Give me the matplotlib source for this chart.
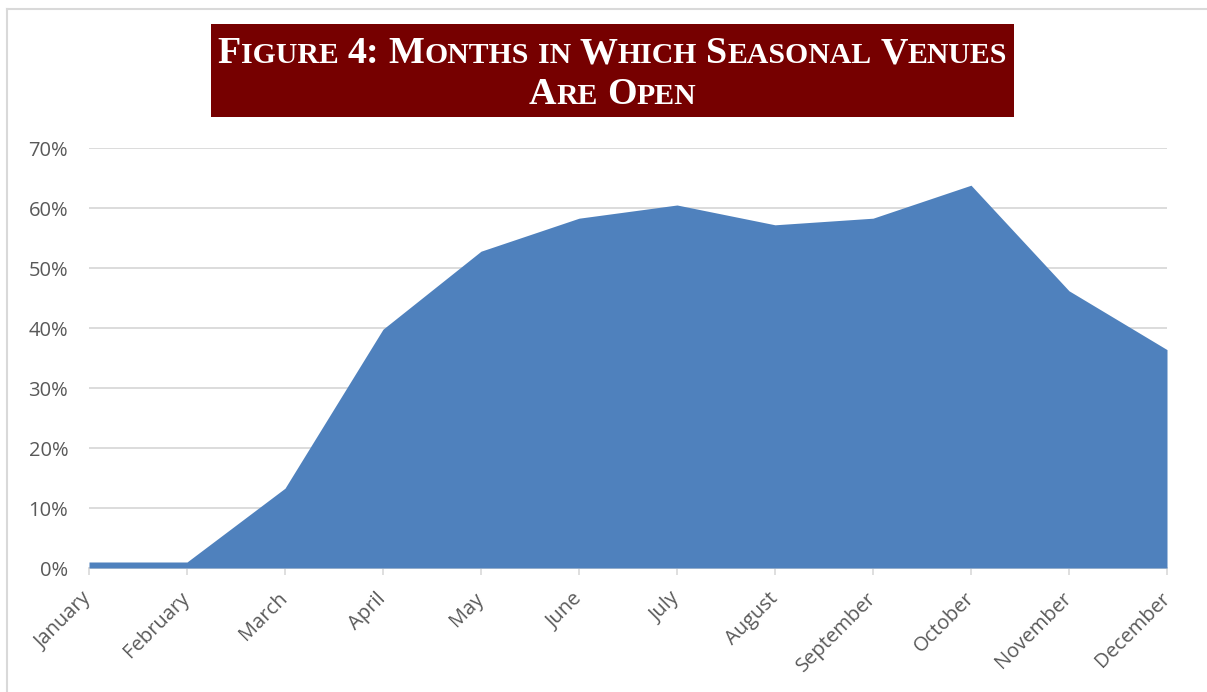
import matplotlib
matplotlib.use('Agg')
from matplotlib import pyplot as plt
from matplotlib.patches import Rectangle
from matplotlib.lines import Line2D
from matplotlib.ticker import PercentFormatter

months = ['January', 'February', 'March', 'April', 'May', 'June', 'July',
          'August', 'September', 'October', 'November', 'December']
share_open = [0.010, 0.010, 0.133, 0.398, 0.528, 0.583, 0.605,
              0.572, 0.583, 0.638, 0.462, 0.364]

# title in small caps: (text, big letter?) per word
title_lines = [
    [[('F', 1), ('IGURE', 0)], [('4:', 1)], [('M', 1), ('ONTHS', 0)], [('IN', 0)],
     [('W', 1), ('HICH', 0)], [('S', 1), ('EASONAL', 0)], [('V', 1), ('ENUES', 0)]],
    [[('A', 1), ('RE', 0)], [('O', 1), ('PEN', 0)]],
]

W, H = 1207, 692
fig = plt.figure(figsize=(W / 100, H / 100), dpi=100)
fig.patch.set_facecolor('white')

# thin frame (top + left only visible)
fig.add_artist(Line2D([6.5 / W, 6.5 / W], [0, 1 - 8.5 / H], transform=fig.transFigure,
                      color='#d9d9d9', lw=1.5))
fig.add_artist(Line2D([6.5 / W, 1], [1 - 8.5 / H, 1 - 8.5 / H], transform=fig.transFigure,
                      color='#d9d9d9', lw=1.5))

ax = fig.add_axes([89 / W, 1 - 568 / H, (1167 - 89) / W, (568 - 148) / H])
x = list(range(len(months)))
ax.fill_between(x, 0, share_open, color='#4f81bd', lw=0, zorder=2)
ax.set_xlim(0, len(months) - 1)
ax.set_ylim(0, 0.7)
ax.set_yticks([i / 10 for i in range(8)])
ax.yaxis.set_major_formatter(PercentFormatter(1.0, decimals=0))
ax.grid(axis='y', color='#d9d9d9', lw=1.3, zorder=0)
ax.set_axisbelow(True)
for s in ['top', 'right', 'left']:
    ax.spines[s].set_visible(False)
ax.spines['bottom'].set_color('#d9d9d9')
ax.spines['bottom'].set_linewidth(1.3)
ax.spines['bottom'].set_zorder(1)

ax.set_xticks(x)
ax.set_xticklabels(months, rotation=45, ha='right', va='center', rotation_mode='anchor',
                   fontsize=14.5, color='#595959', family='Open Sans')
ax.tick_params(axis='x', length=5, width=1.2, color='#d9d9d9', pad=15)
ax.tick_params(axis='y', length=0, pad=15, labelsize=14.5, labelcolor='#595959')
for lab in ax.get_yticklabels():
    lab.set_family('Open Sans')

# title box
x0, x1, y0, y1 = 211, 1014, 24, 117
fig.add_artist(Rectangle((x0 / W, 1 - y1 / H), (x1 - x0) / W, (y1 - y0) / H,
                         transform=fig.transFigure, color='#760000', lw=0))

r = fig.canvas.get_renderer()
big, small = 27.4, 21.4


def width(s, size):
    t = fig.text(0, 0, s, fontsize=size, family='Liberation Serif', weight='bold')
    w = t.get_window_extent(r).width
    t.remove()
    return w


gap = 9.0  # px between words
baselines = [63, 104]
for line, base in zip(title_lines, baselines):
    pieces = []
    for wi, word in enumerate(line):
        for s, b in word:
            pieces.append((s, big if b else small, width(s, big if b else small)))
        if wi < len(line) - 1:
            pieces.append(('', 0, gap))
    total = sum(p[2] for p in pieces)
    cx = (x0 + x1) / 2 - total / 2
    for s, size, w in pieces:
        if s:
            fig.text(cx / W, 1 - base / H, s, fontsize=size, family='Liberation Serif',
                     weight='bold', color='white', ha='left', va='baseline')
        cx += w

fig.savefig('out.png', dpi=100)
